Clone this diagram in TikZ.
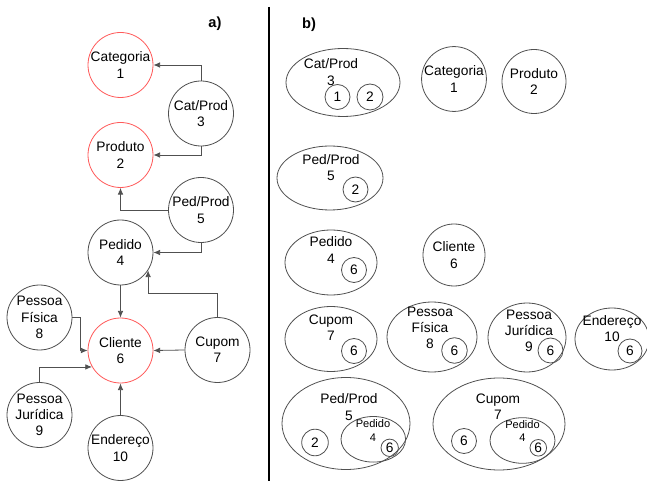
\documentclass[tikz,border=0pt]{standalone}
\usepackage{fontspec}
\setmainfont{Liberation Sans}
\usetikzlibrary{arrows.meta,shapes.geometric}
\definecolor{edge}{HTML}{505050}
\definecolor{keyred}{HTML}{FF5A5A}
\begin{document}
\begin{tikzpicture}[x=0.75pt,y=-0.75pt,
  lbl/.style={font=\fontsize{10.3}{12.2}\selectfont, align=center, inner sep=0pt},
  smalllbl/.style={font=\fontsize{8.3}{10}\selectfont, align=center, inner sep=0pt},
  title/.style={font=\fontsize{11}{13}\selectfont\bfseries, inner sep=0pt},
  ent/.style={circle, draw=edge, line width=0.6pt, minimum size=65*0.75pt, inner sep=0pt, lbl},
  keyent/.style={ent, draw=keyred},
  conn/.style={draw=edge, line width=0.6pt, -{Latex[length=5pt,width=4.2pt]}},
  grp/.style 2 args={ellipse, draw=edge, line width=0.6pt, inner sep=0pt,
    minimum width=2*#1*0.75pt, minimum height=2*#2*0.75pt},
  elem/.style={circle, draw=edge, line width=0.6pt, inner sep=0pt,
    minimum size=2*#1*0.75pt, lbl}]
\useasboundingbox (0,0) rectangle (647,481);

% panel captions and separator
\node[title] (ta) at (215,24) {a)};
\node[title] (tb) at (309,25) {b)};
\draw[line width=2.2pt] (269,7) -- (269,481);

% ---------- a) dependency graph ----------
\node[keyent] (cat) at (120.5,65)  {Categoria\\1};
\node[ent]    (cp)  at (201,113.5) {Cat/Prod\\3};
\node[keyent] (pro) at (120.5,155) {Produto\\2};
\node[ent]    (pp)  at (201,210)   {Ped/Prod\\5};
\node[ent]    (ped) at (120.5,252.5) {Pedido\\4};
\node[keyent] (cli) at (120.5,350.5) {Cliente\\6};
\node[ent]    (pf)  at (39.5,317.5) {Pessoa\\Física\\8};
\node[ent]    (cup) at (217.5,350) {Cupom\\7};
\node[ent]    (pj)  at (39.5,415)  {Pessoa\\Jurídica\\9};
\node[ent]    (end) at (120.5,448) {Endereço\\10};

\coordinate (cupbend) at (0,293);
\draw[conn] (cp.north) |- (cat.east);
\draw[conn] (cp.south) |- (pro.east);
\draw[conn] (pp.west) -| (pro.south);
\draw[conn] (pp.south) |- (ped.east);
\draw[conn] (ped.south) -- (cli.north);
\draw[conn] (cup.north) -- (cup.north |- cupbend) -| (ped.-33);
\draw[conn] (cup.west) -- (cli.east);
\draw[conn] (pf.east) -- ++(8,0) |- (cli.west);
\draw[conn] (pj.north) |- (cli.210);
\draw[conn] (end.north) -- (cli.south);

% ---------- b) nested sets ----------
% row 1
\node[grp={57}{34}] (s3) at (343,82.5) {};
\node[lbl] (s3t) at (331,72) {Cat/Prod\\3};
\node[elem=12.5] (s3a) at (337.5,97) {1};
\node[elem=13] (s3b) at (370,97) {2};
\node[elem=32] (s1) at (454,79) {Categoria\\1};
\node[elem=32] (s2) at (534,81.5) {Produto\\2};

% row 2
\node[grp={53}{32}] (s5) at (330,178) {};
\node[lbl] (s5t) at (331,167.5) {Ped/Prod\\5};
\node[elem=12.5] (s5a) at (355.5,189.5) {2};

% row 3
\node[grp={46}{32.5}] (s4) at (331,262.5) {};
\node[lbl] (s4t) at (331,250) {Pedido\\4};
\node[elem=12.5] (s4a) at (354,270) {6};
\node[elem=31] (s6) at (454,255) {Cliente\\6};

% row 4
\node[grp={46}{32.5}] (s7) at (331,339) {};
\node[lbl] (s7t) at (331,327.5) {Cupom\\7};
\node[elem=12.5] (s7a) at (354,351) {6};

\node[grp={45}{35}] (s8) at (432,337) {};
\node[lbl] (s8t) at (430,328) {Pessoa\\Física\\8};
\node[elem=12.8] (s8a) at (454.5,350.5) {6};

\node[grp={39}{34.5}] (s9) at (527,337.5) {};
\node[lbl] (s9t) at (529,331) {Pessoa\\Jurídica\\9};
\node[elem=12.5] (s9a) at (550.5,350.5) {6};

\node[grp={37}{31}] (s10) at (612,339) {};
\node[lbl] (s10t) at (612,328.7) {Endereço\\10};
\node[elem=12] (s10a) at (630,351) {6};

% row 5
\node[grp={64}{46}] (s5b) at (346,423.5) {};
\node[lbl] (s5bt) at (349,407) {Ped/Prod\\5};
\node[elem=13.3] (s5ba) at (315,442.5) {2};
\node[grp={32.3}{22.8}] (s5bp) at (373.3,439.3) {};
\node[smalllbl] (s5bpt) at (373,430.5) {Pedido\\4};
\node[elem=8.7] (s5bpa) at (389.7,447.8) {6};

\node[grp={66}{46}] (s7b) at (499,424) {};
\node[lbl] (s7bt) at (498,406.5) {Cupom\\7};
\node[elem=12.5] (s7ba) at (464,441) {6};
\node[grp={32.5}{22.8}] (s7bp) at (522.5,440.5) {};
\node[smalllbl] (s7bpt) at (522.5,431) {Pedido\\4};
\node[elem=8.3] (s7bpa) at (538.3,447.8) {6};
\end{tikzpicture}
\end{document}
